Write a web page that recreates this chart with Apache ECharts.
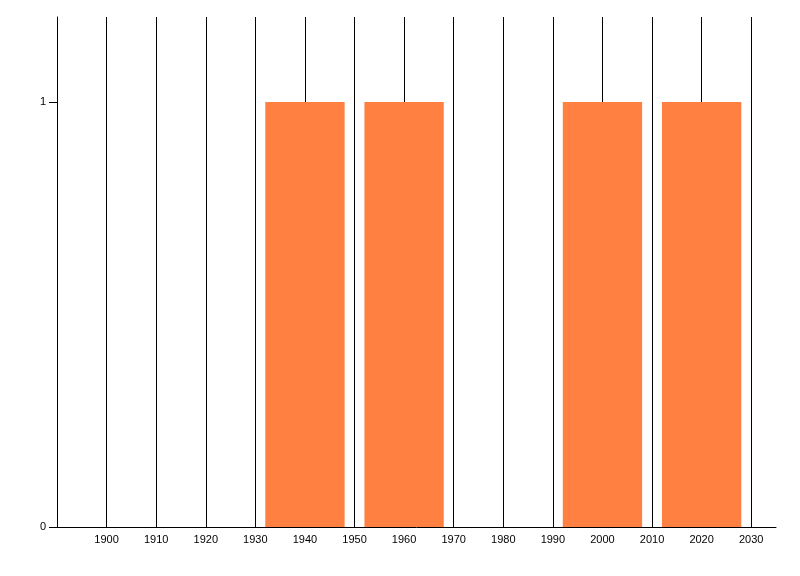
<!DOCTYPE html>
<html>
<head>
<meta charset="utf-8">
<script src="https://cdn.jsdelivr.net/npm/echarts@6/dist/echarts.min.js"></script>
<style>
html, body { margin: 0; padding: 0; background: #fff; }
#chart { width: 800px; height: 576px; }
</style>
</head>
<body>
<div id="chart"></div>
<script>
// bar ranges (years) and heights
var barStart = [1932, 1952, 1992, 2012];
var barEnd = [1948, 1968, 2008, 2028];
var barValue = [1, 1, 1, 1];

var xMin = 1890, xMax = 2035;
var yMin = 0, yMax = 1.2;

var data = barStart.map(function (s, i) {
    return [s, barEnd[i], barValue[i]];
});

var chart = echarts.init(document.getElementById('chart'));
var option = {
    animation: false,
    grid: {
        left: 57,
        top: 17,
        right: 24,
        bottom: 49
    },
    xAxis: {
        type: 'value',
        min: xMin,
        max: xMax,
        interval: 10,
        axisLine: { show: true, lineStyle: { color: '#000', width: 1 } },
        axisTick: { show: false },
        axisLabel: {
            color: '#000',
            fontFamily: 'Liberation Sans',
            fontSize: 11,
            margin: 7,
            formatter: function (v) {
                return (v % 10 === 0 && v > xMin) ? String(v) : '';
            }
        },
        splitLine: {
            show: true,
            showMinLine: false,
            showMaxLine: false,
            lineStyle: { color: '#000', width: 1 }
        }
    },
    yAxis: {
        type: 'value',
        min: yMin,
        max: yMax,
        interval: 1,
        axisLine: { show: true, lineStyle: { color: '#000', width: 1 } },
        axisTick: {
            show: true,
            length: 8,
            lineStyle: { color: '#000' },
            customValues: [0, 1]
        },
        axisLabel: {
            color: '#000',
            fontFamily: 'Liberation Sans',
            fontSize: 11,
            margin: 11,
            formatter: function (v) {
                return (v === 0 || v === 1) ? String(v) : '';
            }
        },
        splitLine: {
            show: true,
            showMinLine: false,
            showMaxLine: false,
            lineStyle: { color: '#000', width: 1 }
        }
    },
    series: [{
        type: 'custom',
        data: data,
        renderItem: function (params, api) {
            var p0 = api.coord([api.value(0), api.value(2)]);
            var p1 = api.coord([api.value(1), 0]);
            return {
                type: 'rect',
                shape: {
                    x: p0[0],
                    y: p0[1],
                    width: p1[0] - p0[0],
                    height: p1[1] - p0[1]
                },
                style: { fill: '#ff8040' }
            };
        },
        encode: { x: [0, 1], y: 2 }
    }]
};
chart.setOption(option);
</script>
</body>
</html>
